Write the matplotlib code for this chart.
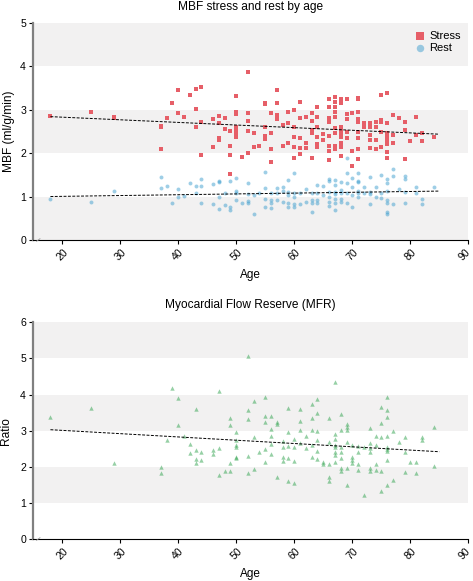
import numpy as np
import matplotlib
matplotlib.use("Agg")
import matplotlib.pyplot as plt
from matplotlib.transforms import ScaledTranslation

plt.rcParams['font.family'] = ['Liberation Sans', 'DejaVu Sans']

# MBF stress (age, ml/g/min)
stress_age = [18, 25, 29, 29, 37, 37, 37, 38, 39, 40, 40, 41, 42, 43, 43, 43, 44, 44, 44,
              46, 46, 47, 47, 47, 47, 48, 48, 49, 49, 49, 49, 50, 50, 50, 50, 50, 50, 50,
              51, 52, 52, 52, 52, 52, 53, 53, 54, 55, 55, 55, 55, 55, 56, 56, 56, 56,
              57, 57, 57, 57, 58, 58, 59, 59, 59, 60, 60, 60, 60, 60, 61, 61, 61, 61, 61,
              62, 62, 62, 63, 63, 63, 63, 63, 64, 64, 64, 64, 64, 64, 65, 65,
              66, 66, 66, 66, 66, 66, 66, 66, 67, 67, 67, 67, 67, 67, 67, 67, 67,
              68, 68, 68, 68, 68, 68, 68, 68, 68, 69, 69, 69, 69, 69, 70, 70, 70,
              71, 71, 71, 71, 71, 71, 71, 71, 71, 72, 72, 73, 73, 73, 73, 73,
              74, 74, 74, 74, 75, 75, 75, 75, 75, 76, 76, 76, 76, 76, 76, 76, 76,
              77, 77, 77, 78, 79, 79, 79, 80, 81, 81, 82, 82, 84]
stress_val = [2.86, 2.96, 2.83, 2.81, 2.63, 2.60, 2.10, 2.80, 3.16, 3.46, 2.92, 2.84, 3.33,
              3.49, 3.02, 2.61, 3.52, 2.72, 1.96, 2.78, 2.14, 2.86, 2.69, 2.36, 2.30,
              2.80, 2.55, 2.52, 2.17, 1.95, 1.51, 3.32, 2.94, 2.90, 2.60, 2.52, 2.44, 2.38,
              1.92, 3.88, 2.93, 2.74, 2.51, 2.01, 2.46, 2.15, 2.17, 3.16, 3.13, 2.61, 2.40,
              2.33, 2.93, 2.47, 2.09, 1.80, 3.46, 3.16, 2.88, 2.78, 2.65, 2.17, 2.95, 2.69,
              2.24, 3.00, 2.61, 2.38, 2.15, 1.88, 3.19, 2.82, 2.34, 2.11, 1.98,
              2.83, 2.23, 2.11, 2.92, 2.75, 2.53, 2.47, 1.88, 3.07, 2.84, 2.61, 2.37, 2.21,
              2.15, 2.44, 2.30, 3.25, 3.06, 2.82, 2.73, 2.40, 2.17, 2.05, 1.84,
              3.30, 3.19, 3.06, 2.96, 2.84, 2.57, 2.47, 2.17, 2.09,
              3.25, 3.15, 2.61, 2.53, 2.46, 2.38, 2.23, 2.15, 1.94, 3.25, 2.90, 2.79, 2.48,
              2.34, 2.92, 2.04, 1.71, 3.28, 3.24, 2.94, 2.79, 2.71, 2.50, 2.36, 2.10, 1.87,
              2.70, 2.60, 2.70, 2.60, 2.43, 2.30, 2.11, 2.73, 2.61, 2.30, 2.10,
              3.34, 2.77, 2.72, 2.50, 2.15, 3.39, 2.69, 2.46, 2.38, 2.30, 2.21, 2.02, 1.88,
              2.88, 2.42, 2.24, 2.82, 2.73, 2.53, 1.86, 2.28, 2.84, 2.42, 2.46, 2.29, 2.37]

# MBF rest (age, ml/g/min)
rest_age = [18, 25, 29, 37, 37, 38, 39, 40, 40, 41, 42, 43, 43, 44, 44, 44, 46, 46,
            47, 47, 47, 47, 48, 48, 49, 49, 49, 50, 50, 50, 50, 51, 52, 52, 52, 52,
            53, 53, 54, 55, 55, 55, 55, 56, 56, 56, 56, 57, 57, 57, 58, 58, 58,
            59, 59, 59, 59, 59, 60, 60, 60, 60, 60, 61, 61, 62, 62, 63, 63, 63, 63,
            64, 64, 64, 64, 65, 65, 66, 66, 66, 66, 66, 66, 67, 67, 67, 67, 67, 67, 67,
            68, 68, 68, 68, 68, 69, 69, 69, 69, 69, 70, 70, 70, 70,
            71, 71, 71, 71, 71, 71, 72, 72, 73, 73, 73, 73, 74, 74, 75, 75, 75,
            76, 76, 76, 76, 76, 76, 76, 77, 77, 77, 78, 79, 79, 79, 79, 81, 81, 82, 82, 84]
rest_val = [0.94, 0.87, 1.14, 1.46, 1.19, 1.24, 0.85, 1.17, 1.00, 1.02, 1.32, 1.24, 1.09,
            1.40, 1.25, 0.86, 1.28, 0.82, 1.36, 1.34, 1.00, 0.71, 1.09, 0.81, 1.36, 0.77,
            0.68, 1.44, 1.14, 1.08, 0.92, 0.85, 1.32, 1.06, 0.90, 0.85, 1.04, 0.61, 1.08,
            1.57, 1.19, 0.94, 0.77, 1.09, 0.92, 0.86, 0.73, 1.19, 1.09, 0.92, 1.21, 1.14,
            0.88, 1.38, 1.11, 1.04, 0.85, 0.75, 1.54, 1.09, 1.00, 0.83, 0.77, 1.09, 0.83,
            1.17, 0.88, 1.08, 0.92, 0.86, 0.64, 1.27, 1.09, 0.92, 0.85, 1.25, 1.04,
            1.40, 1.36, 1.11, 1.00, 0.88, 0.78, 1.38, 1.27, 1.11, 1.05, 0.94, 0.85, 0.68,
            1.34, 1.15, 1.08, 0.94, 0.88, 1.88, 1.54, 1.31, 1.09, 0.86, 1.42, 1.23, 1.04,
            0.75, 1.54, 1.37, 1.34, 1.13, 1.08, 1.00, 1.23, 1.08, 1.46, 1.10, 1.07, 0.83,
            1.21, 0.98, 1.50, 1.08, 0.96, 1.41, 1.32, 1.14, 0.92, 0.86, 0.65, 0.61,
            1.64, 1.48, 0.83, 1.17, 1.48, 1.41, 1.10, 0.85, 1.21, 1.08, 0.94, 0.83, 1.21]

# Myocardial flow reserve (age, ratio)
mfr_age = [18, 25, 29, 37, 37, 38, 39, 40, 40, 41, 42, 42, 43, 43, 43, 43, 44, 44,
           46, 46, 47, 47, 47, 48, 49, 49, 49, 49, 50, 50, 50, 50, 50, 50,
           52, 52, 52, 52, 52, 53, 53, 53, 54, 55, 55, 55, 55, 55,
           56, 56, 56, 56, 56, 57, 57, 57, 58, 58, 58, 58, 59, 59, 59, 59, 59,
           60, 60, 60, 60, 61, 61, 61, 61, 62, 62, 63, 63, 63, 63, 63,
           64, 64, 64, 64, 64, 64, 65, 65, 66, 66, 66, 66, 66,
           67, 67, 67, 67, 67, 67, 67, 67, 68, 68, 68, 68, 68, 68, 68,
           69, 69, 69, 69, 69, 69, 70, 70, 70, 70, 71, 71, 71, 71, 72, 72,
           73, 73, 73, 73, 73, 73, 74, 74, 74, 74, 75, 75, 75, 75, 75,
           76, 76, 76, 76, 76, 76, 76, 76, 76, 77, 77, 78, 79, 79, 79, 80, 81, 81,
           82, 82, 84, 84]
mfr_val = [3.37, 3.64, 2.10, 2.00, 1.82, 2.74, 4.19, 3.90, 3.16, 2.84, 2.64, 2.38, 3.60,
           2.47, 2.21, 2.10, 2.42, 2.19, 2.47, 2.35, 4.10, 2.52, 1.78, 1.87, 3.35, 3.15,
           2.10, 1.87, 2.96, 2.75, 2.61, 2.56, 2.28, 2.23,
           5.07, 3.56, 3.31, 2.31, 1.84, 3.83, 2.82, 1.95, 2.40, 3.93, 3.40, 3.24, 2.49,
           2.12, 3.40, 3.05, 2.86, 2.64, 2.36, 3.25, 3.17, 1.72, 2.72, 2.56, 2.28, 2.15,
           3.62, 2.96, 2.58, 2.24, 1.61, 2.78, 2.56, 2.17, 1.56, 3.59, 3.27, 3.02, 2.65,
           2.85, 2.52, 3.73, 3.35, 3.02, 2.61, 2.28, 3.87, 3.48, 3.00, 2.73, 2.44, 2.22,
           2.13, 2.07, 3.34, 2.68, 2.07, 1.72, 1.60,
           4.34, 2.92, 2.77, 2.61, 2.54, 2.40, 2.33, 2.14, 3.46, 3.02, 2.56, 2.40, 2.24,
           1.96, 1.87, 3.17, 3.09, 3.02, 2.68, 1.96, 1.50, 2.61, 2.28, 2.19, 2.11,
           2.58, 2.40, 2.09, 1.90, 2.56, 1.22, 3.06, 2.65, 2.52, 2.40, 1.96, 1.87,
           2.86, 2.61, 2.07, 1.91, 3.65, 3.22, 2.81, 1.87, 1.33,
           3.93, 3.56, 3.37, 2.84, 2.56, 2.49, 2.43, 2.18, 1.50, 3.00, 1.63, 2.68, 2.82,
           2.40, 1.85, 2.13, 2.13, 1.82, 2.82, 2.74, 3.09, 2.03]

red = '#e65f68'
blue = '#3f9fcf'
green = '#2ea24c'
band = '#f2f1f1'


def style_axes(ax, ymax, grey_from):
    ax.set_xlim(15, 90)
    ax.set_ylim(0, ymax)
    for lo in range(grey_from, ymax, 2):
        ax.axhspan(lo, lo + 1, color=band, zorder=0, lw=0)
    ax.set_xticks(range(20, 91, 10))
    ax.set_yticks(range(0, ymax + 1))
    ax.tick_params(axis='both', labelsize=7.6, length=3, width=0.8, pad=2)
    plt.setp(ax.get_xticklabels(), rotation=45, ha='center', va='top')
    # keep the last rotated label inside the figure
    last = ax.get_xticklabels()[-1]
    last.set_transform(last.get_transform() +
                       ScaledTranslation(-3 / 72, 0, ax.figure.dpi_scale_trans))
    ax.spines['top'].set_visible(False)
    ax.spines['right'].set_visible(False)
    ax.spines['left'].set_color('#808080')
    ax.spines['left'].set_linewidth(1.6)
    ax.spines['bottom'].set_linewidth(0.8)
    ax.set_xlabel('Age', fontsize=8.5, labelpad=5)
    # small break mark at the origin
    ax.plot([15.6, 16.2], [-0.03 * ymax / 5, 0.03 * ymax / 5], color='#999999', lw=0.6,
            clip_on=False, zorder=5)


def trend(ax, x, y):
    x = np.asarray(x, float)
    y = np.asarray(y, float)
    k, b = np.polyfit(x, y, 1)
    xs = np.array([x.min(), x.max() + 1])
    ax.plot(xs, k * xs + b, color='black', lw=0.7, ls=(0, (3, 1.5)), zorder=4)


fig = plt.figure(figsize=(4.73, 5.81), dpi=100)

ax1 = fig.add_axes([0.0698, 0.5869, 0.9205, 0.3735])
style_axes(ax1, 5, 0)
ax1.scatter(stress_age, stress_val, marker='s', s=10, color=red, lw=0, label='Stress', zorder=3)
ax1.scatter(rest_age, rest_val, marker='o', s=8, color=blue, alpha=0.5, lw=0,
            label='Rest', zorder=3)
trend(ax1, stress_age, stress_val)
trend(ax1, rest_age, rest_val)
ax1.set_ylabel('MBF (ml/g/min)', fontsize=8.6, labelpad=4)
ax1.set_title('MBF stress and rest by age', fontsize=8.6, pad=9.5)
leg = ax1.legend(loc='upper right', frameon=False, fontsize=8, markerscale=1.9,
                 handlelength=1.0, handletextpad=0.3, borderaxespad=0.3, labelspacing=0.2)

ax2 = fig.add_axes([0.0698, 0.0723, 0.9205, 0.373])
style_axes(ax2, 6, 1)
ax2.scatter(mfr_age, mfr_val, marker='^', s=10, color=green, alpha=0.5, lw=0, zorder=3)
trend(ax2, mfr_age, mfr_val)
ax2.set_ylabel('Ratio', fontsize=8.6, labelpad=6)
ax2.set_title('Myocardial Flow Reserve (MFR)', fontsize=8.6, pad=10.5)

fig.savefig('out.png', dpi=100)
